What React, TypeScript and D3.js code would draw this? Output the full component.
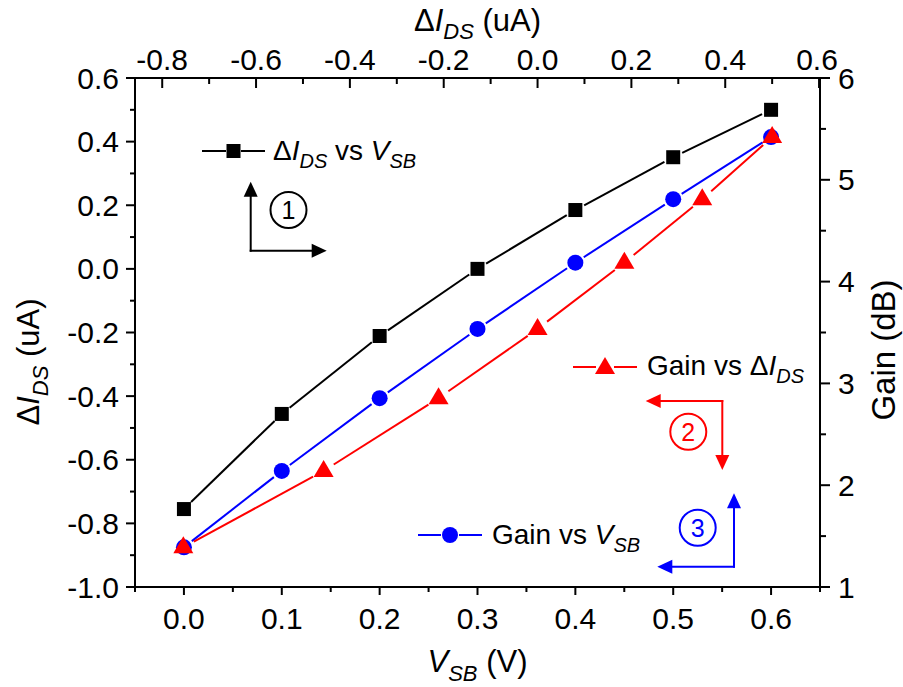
import React from 'react';
import * as d3 from 'd3';

// Source-bias sweep and the measured drain-current change / gain
const vsb = [0, 0.1, 0.2, 0.3, 0.4, 0.5, 0.6];
const deltaIds = [-0.755, -0.456, -0.211, 0.0, 0.185, 0.351, 0.5];
const gainDb = [1.39, 2.14, 2.855, 3.535, 4.186, 4.81, 5.42];

const bottomTicks = [0, 0.1, 0.2, 0.3, 0.4, 0.5, 0.6];
const topTicks = [-0.8, -0.6, -0.4, -0.2, 0.0, 0.2, 0.4, 0.6];
const leftTicks = [-1.0, -0.8, -0.6, -0.4, -0.2, 0.0, 0.2, 0.4, 0.6];
const rightTicks = [1, 2, 3, 4, 5, 6];

const W = 903;
const H = 687;
const L = 135, R = 820, T = 78, B = 587;
const FONT = '"Liberation Sans", Arial, Helvetica, sans-serif';
const TICK_FS = 30;
const TITLE_FS = 31;
const LEG_FS = 28;

const xV = d3.scaleLinear().domain([-0.05, 0.65]).range([L, R]);
const xI = d3.scaleLinear().domain([-0.858, 0.602]).range([L, R]);
const yI = d3.scaleLinear().domain([-1.0, 0.6]).range([B, T]);
const yG = d3.scaleLinear().domain([1, 6]).range([B, T]);

type Pt = [number, number];

// Line segments that stop short of each marker, leaving a small gap
function gappedSegments(pts: Pt[], gap: number) {
  const segs: [Pt, Pt][] = [];
  for (let i = 0; i < pts.length - 1; i++) {
    const [x0, y0] = pts[i];
    const [x1, y1] = pts[i + 1];
    const dx = x1 - x0, dy = y1 - y0;
    const len = Math.hypot(dx, dy);
    if (len <= gap * 2) continue;
    const ux = dx / len, uy = dy / len;
    segs.push([[x0 + ux * gap, y0 + uy * gap], [x1 - ux * gap, y1 - uy * gap]]);
  }
  return segs;
}

const Square = ({ x, y, c }: { x: number; y: number; c: string }) => (
  <rect x={x - 7} y={y - 7} width={14} height={14} fill={c} />
);
const Dot = ({ x, y, c }: { x: number; y: number; c: string }) => (
  <circle cx={x} cy={y} r={8} fill={c} />
);
const Tri = ({ x, y, c }: { x: number; y: number; c: string }) => (
  <path d={`M${x},${y - 11}L${x + 10},${y + 6}L${x - 10},${y + 6}Z`} fill={c} />
);

function Series({ pts, color, marker, gap }: { pts: Pt[]; color: string; marker: string; gap: number }) {
  const segs = gappedSegments(pts, gap);
  return (
    <g>
      {segs.map((s, i) => (
        <line key={i} x1={s[0][0]} y1={s[0][1]} x2={s[1][0]} y2={s[1][1]} stroke={color} strokeWidth={2} />
      ))}
      {pts.map((p, i) =>
        marker === 'square' ? <Square key={i} x={p[0]} y={p[1]} c={color} /> :
        marker === 'circle' ? <Dot key={i} x={p[0]} y={p[1]} c={color} /> :
        <Tri key={i} x={p[0]} y={p[1]} c={color} />
      )}
    </g>
  );
}

// Text pieces: Δ I_DS and V_SB with italic subscripts
const IdsSpans = ({ fs, shift }: { fs: number; shift?: number }) => {
  const sub = Math.round(fs * 0.72);
  const dy = shift ?? Math.round(fs * 0.29);
  return (
    <>
      <tspan>Δ</tspan>
      <tspan fontStyle="italic">I</tspan>
      <tspan fontStyle="italic" fontSize={sub} dy={dy}>DS</tspan>
      <tspan dy={-dy}>{'\u00a0'}</tspan>
    </>
  );
};
const VsbSpans = ({ fs }: { fs: number }) => {
  const sub = Math.round(fs * 0.72);
  const dy = Math.round(fs * 0.29);
  return (
    <>
      <tspan fontStyle="italic">V</tspan>
      <tspan fontStyle="italic" fontSize={sub} dy={dy}>SB</tspan>
      <tspan dy={-dy}>{'\u00a0'}</tspan>
    </>
  );
};

function Arrow({ x1, y1, x2, y2, color }: { x1: number; y1: number; x2: number; y2: number; color: string }) {
  const dx = x2 - x1, dy = y2 - y1;
  const len = Math.hypot(dx, dy);
  const ux = dx / len, uy = dy / len;
  const hl = 15, hw = 7;
  const bx = x2 - ux * hl, by = y2 - uy * hl;
  const px = -uy, py = ux;
  return (
    <g>
      <line x1={x1} y1={y1} x2={bx + ux * 2} y2={by + uy * 2} stroke={color} strokeWidth={2} />
      <path d={`M${x2},${y2}L${bx + px * hw},${by + py * hw}L${bx - px * hw},${by - py * hw}Z`} fill={color} />
    </g>
  );
}

function Circled({ cx, cy, n, color }: { cx: number; cy: number; n: string; color: string }) {
  return (
    <g>
      <circle cx={cx} cy={cy} r={18} fill="none" stroke={color} strokeWidth={2} />
      <text x={cx} y={cy + 9} textAnchor="middle" fontSize={25} fill={color}>{n}</text>
    </g>
  );
}

export default function App() {
  const blackPts: Pt[] = vsb.map((v, i) => [xV(v), yI(deltaIds[i])]);
  const bluePts: Pt[] = vsb.map((v, i) => [xV(v), yG(gainDb[i])]);
  const redPts: Pt[] = deltaIds.map((d, i) => [xI(d), yG(gainDb[i])]);

  const minorBottom = xV.ticks(14).filter((t) => !bottomTicks.some((m) => Math.abs(m - t) < 1e-6));
  const minorTop = d3.range(-0.7, 0.6, 0.2);
  const minorLeft = d3.range(-0.9, 0.6, 0.2);
  const minorRight = d3.range(1.5, 6, 1);

  const ax = { stroke: '#000', strokeWidth: 2 };

  return (
    <svg width={W} height={H} style={{ position: 'absolute', left: 0, top: 0, background: '#fff' }}
      fontFamily={FONT} fontSize={TICK_FS}>
      <rect x={0} y={0} width={W} height={H} fill="#fff" />

      {/* frame */}
      <line x1={L} y1={T} x2={L} y2={B + 1} {...ax} />
      <line x1={L - 1} y1={B} x2={R + 1} y2={B} {...ax} />
      <line x1={R} y1={T} x2={R} y2={B + 1} {...ax} />
      <line x1={L - 1} y1={T} x2={R + 1} y2={T} {...ax} />

      {/* left axis */}
      {leftTicks.map((t) => (
        <g key={'l' + t}>
          <line x1={L - 9} x2={L} y1={yI(t)} y2={yI(t)} {...ax} />
          <text x={L - 16} y={yI(t) + 10.5} textAnchor="end">{t.toFixed(1)}</text>
        </g>
      ))}
      {minorLeft.map((t) => (
        <line key={'lm' + t} x1={L - 5} x2={L} y1={yI(t)} y2={yI(t)} {...ax} />
      ))}

      {/* right axis */}
      {rightTicks.map((t) => (
        <g key={'r' + t}>
          <line x1={R} x2={R + 10} y1={yG(t)} y2={yG(t)} {...ax} />
          <text x={R + 18} y={yG(t) + 10.5} textAnchor="start">{t}</text>
        </g>
      ))}
      {minorRight.map((t) => (
        <line key={'rm' + t} x1={R} x2={R + 6} y1={yG(t)} y2={yG(t)} {...ax} />
      ))}

      {/* bottom axis */}
      {bottomTicks.map((t) => (
        <g key={'b' + t}>
          <line x1={xV(t)} x2={xV(t)} y1={B} y2={B + 8} {...ax} />
          <text x={xV(t)} y={629} textAnchor="middle">{t.toFixed(1)}</text>
        </g>
      ))}
      {minorBottom.map((t) => (
        <line key={'bm' + t} x1={xV(t)} x2={xV(t)} y1={B} y2={B + 5} {...ax} />
      ))}

      {/* top axis */}
      {topTicks.map((t) => (
        <g key={'t' + t}>
          <line x1={xI(t)} x2={xI(t)} y1={T} y2={T + 10} {...ax} />
          <text x={t === 0.6 ? xI(t) - 2 : xI(t)} y={70} textAnchor="middle">{t.toFixed(1)}</text>
        </g>
      ))}
      {minorTop.map((t) => (
        <line key={'tm' + t} x1={xI(t)} x2={xI(t)} y1={T} y2={T + 6} {...ax} />
      ))}

      {/* axis titles */}
      <text x={(L + R) / 2} y={31} textAnchor="middle" fontSize={TITLE_FS}>
        <IdsSpans fs={TITLE_FS} shift={8} />(uA)
      </text>
      <text x={(L + R) / 2} y={672} textAnchor="middle" fontSize={TITLE_FS}>
        <VsbSpans fs={TITLE_FS} />(V)
      </text>
      <text transform={`translate(39,362) rotate(-90)`} textAnchor="middle" fontSize={TITLE_FS}>
        <IdsSpans fs={TITLE_FS} />(uA)
      </text>
      <text transform={`translate(895,350) rotate(-90)`} textAnchor="middle" fontSize={33}>Gain (dB)</text>

      {/* data */}
      <Series pts={blackPts} color="#000000" marker="square" gap={10} />
      <Series pts={bluePts} color="#0000ff" marker="circle" gap={10} />
      <Series pts={redPts} color="#ff0000" marker="triangle" gap={12} />

      {/* legend entries */}
      <g fontSize={LEG_FS}>
        <line x1={202} x2={226} y1={151} y2={151} stroke="#000" strokeWidth={2} />
        <line x1={241} x2={265} y1={151} y2={151} stroke="#000" strokeWidth={2} />
        <Square x={233.5} y={151} c="#000" />
        <text x={273} y={160}>
          <IdsSpans fs={LEG_FS} />vs <VsbSpans fs={LEG_FS} />
        </text>
      </g>
      <g fontSize={LEG_FS}>
        <line x1={573} x2={596} y1={367} y2={367} stroke="#ff0000" strokeWidth={2} />
        <line x1={614} x2={637} y1={367} y2={367} stroke="#ff0000" strokeWidth={2} />
        <Tri x={605} y={368} c="#ff0000" />
        <text x={647} y={375}>
          Gain vs <IdsSpans fs={LEG_FS} />
        </text>
      </g>
      <g fontSize={LEG_FS}>
        <line x1={418} x2={441} y1={535} y2={535} stroke="#0000ff" strokeWidth={2} />
        <line x1={459} x2={482} y1={535} y2={535} stroke="#0000ff" strokeWidth={2} />
        <Dot x={450} y={535} c="#0000ff" />
        <text x={492} y={544}>
          Gain vs <VsbSpans fs={LEG_FS} />
        </text>
      </g>

      {/* annotation arrows */}
      <g>
        <Arrow x1={250.7} y1={251.7} x2={250.7} y2={181.7} color="#000" />
        <Arrow x1={249.7} y1={250.7} x2={326.7} y2={250.7} color="#000" />
        <Circled cx={288.5} cy={210} n="1" color="#000" />
      </g>
      <g>
        <Arrow x1={723.3} y1={401} x2={645.7} y2={401} color="#ff0000" />
        <Arrow x1={722.3} y1={400} x2={722.3} y2={470} color="#ff0000" />
        <Circled cx={688.3} cy={431.7} n="2" color="#ff0000" />
      </g>
      <g>
        <Arrow x1={734} y1={567.7} x2={734} y2={493.3} color="#0000ff" />
        <Arrow x1={735} y1={566.7} x2={657.3} y2={566.7} color="#0000ff" />
        <Circled cx={697.7} cy={527.7} n="3" color="#0000ff" />
      </g>
    </svg>
  );
}
